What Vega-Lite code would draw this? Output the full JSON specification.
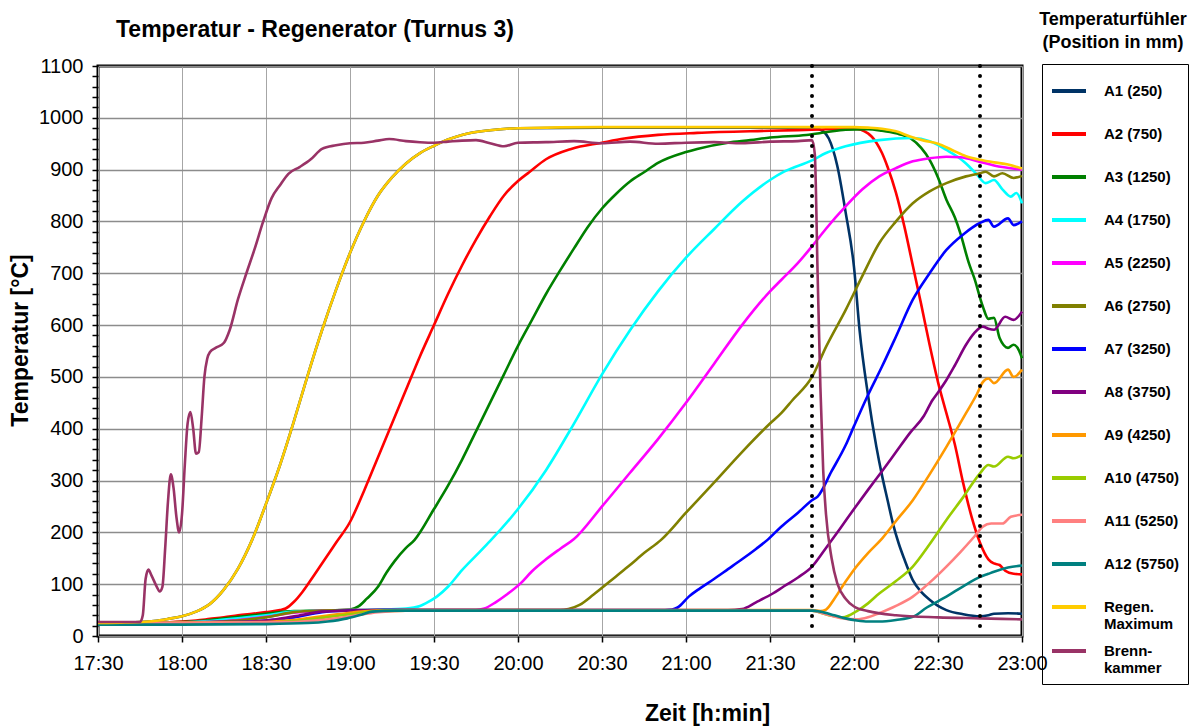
{
"$schema": "https://vega.github.io/schema/vega-lite/v6.json",
"width": 924, "height": 570,
"autosize": {"type": "none"},
"padding": {"left": 98, "top": 66, "right": 168, "bottom": 90},
"background": "white",
"config": {"view": {"stroke": "black", "strokeWidth": 3}, "font": "Liberation Sans"},
"layer": [
{
"data": {"values": [
{"t":"17:30","s":"A1 (250)","v":25},{"t":"17:40","s":"A1 (250)","v":26},{"t":"17:45","s":"A1 (250)","v":27},{"t":"17:50","s":"A1 (250)","v":29},{"t":"17:55","s":"A1 (250)","v":33},{"t":"18:00","s":"A1 (250)","v":38},{"t":"18:05","s":"A1 (250)","v":47},{"t":"18:10","s":"A1 (250)","v":62},{"t":"18:15","s":"A1 (250)","v":90},{"t":"18:20","s":"A1 (250)","v":130},{"t":"18:25","s":"A1 (250)","v":185},{"t":"18:30","s":"A1 (250)","v":255},{"t":"18:35","s":"A1 (250)","v":330},{"t":"18:40","s":"A1 (250)","v":415},{"t":"18:45","s":"A1 (250)","v":505},{"t":"18:50","s":"A1 (250)","v":590},{"t":"18:55","s":"A1 (250)","v":668},{"t":"19:00","s":"A1 (250)","v":739},{"t":"19:05","s":"A1 (250)","v":800},{"t":"19:10","s":"A1 (250)","v":850},{"t":"19:15","s":"A1 (250)","v":885},{"t":"19:20","s":"A1 (250)","v":912},{"t":"19:25","s":"A1 (250)","v":932},{"t":"19:30","s":"A1 (250)","v":946},{"t":"19:35","s":"A1 (250)","v":958},{"t":"19:40","s":"A1 (250)","v":967},{"t":"19:50","s":"A1 (250)","v":976},{"t":"20:00","s":"A1 (250)","v":980},{"t":"20:30","s":"A1 (250)","v":981},{"t":"21:00","s":"A1 (250)","v":981},{"t":"21:30","s":"A1 (250)","v":981},{"t":"21:45","s":"A1 (250)","v":981},{"t":"21:47","s":"A1 (250)","v":979},{"t":"21:49","s":"A1 (250)","v":974},{"t":"21:51","s":"A1 (250)","v":960},{"t":"21:54","s":"A1 (250)","v":908},{"t":"21:57","s":"A1 (250)","v":818},{"t":"22:00","s":"A1 (250)","v":712},{"t":"22:02","s":"A1 (250)","v":590},{"t":"22:05","s":"A1 (250)","v":465},{"t":"22:08","s":"A1 (250)","v":365},{"t":"22:10","s":"A1 (250)","v":310},{"t":"22:12","s":"A1 (250)","v":262},{"t":"22:14","s":"A1 (250)","v":215},{"t":"22:16","s":"A1 (250)","v":178},{"t":"22:18","s":"A1 (250)","v":148},{"t":"22:21","s":"A1 (250)","v":108},{"t":"22:24","s":"A1 (250)","v":85},{"t":"22:27","s":"A1 (250)","v":70},{"t":"22:30","s":"A1 (250)","v":58},{"t":"22:33","s":"A1 (250)","v":50},{"t":"22:39","s":"A1 (250)","v":42},{"t":"22:45","s":"A1 (250)","v":38},{"t":"22:48","s":"A1 (250)","v":40},{"t":"22:50","s":"A1 (250)","v":43},{"t":"22:55","s":"A1 (250)","v":44},{"t":"23:00","s":"A1 (250)","v":43},
{"t":"17:30","s":"A2 (750)","v":25},{"t":"17:50","s":"A2 (750)","v":26},{"t":"18:00","s":"A2 (750)","v":28},{"t":"18:05","s":"A2 (750)","v":30},{"t":"18:10","s":"A2 (750)","v":33},{"t":"18:15","s":"A2 (750)","v":36},{"t":"18:20","s":"A2 (750)","v":40},{"t":"18:25","s":"A2 (750)","v":43},{"t":"18:30","s":"A2 (750)","v":46},{"t":"18:35","s":"A2 (750)","v":50},{"t":"18:37","s":"A2 (750)","v":53},{"t":"18:40","s":"A2 (750)","v":66},{"t":"18:43","s":"A2 (750)","v":85},{"t":"18:46","s":"A2 (750)","v":108},{"t":"18:50","s":"A2 (750)","v":140},{"t":"18:55","s":"A2 (750)","v":180},{"t":"19:00","s":"A2 (750)","v":220},{"t":"19:05","s":"A2 (750)","v":280},{"t":"19:10","s":"A2 (750)","v":345},{"t":"19:15","s":"A2 (750)","v":410},{"t":"19:20","s":"A2 (750)","v":475},{"t":"19:25","s":"A2 (750)","v":540},{"t":"19:30","s":"A2 (750)","v":600},{"t":"19:35","s":"A2 (750)","v":660},{"t":"19:40","s":"A2 (750)","v":715},{"t":"19:45","s":"A2 (750)","v":765},{"t":"19:50","s":"A2 (750)","v":810},{"t":"19:55","s":"A2 (750)","v":850},{"t":"20:00","s":"A2 (750)","v":878},{"t":"20:04","s":"A2 (750)","v":895},{"t":"20:10","s":"A2 (750)","v":920},{"t":"20:19","s":"A2 (750)","v":940},{"t":"20:30","s":"A2 (750)","v":952},{"t":"20:38","s":"A2 (750)","v":960},{"t":"20:50","s":"A2 (750)","v":967},{"t":"21:04","s":"A2 (750)","v":971},{"t":"21:30","s":"A2 (750)","v":975},{"t":"21:45","s":"A2 (750)","v":977},{"t":"22:00","s":"A2 (750)","v":979},{"t":"22:05","s":"A2 (750)","v":970},{"t":"22:08","s":"A2 (750)","v":952},{"t":"22:10","s":"A2 (750)","v":932},{"t":"22:12","s":"A2 (750)","v":905},{"t":"22:15","s":"A2 (750)","v":855},{"t":"22:18","s":"A2 (750)","v":790},{"t":"22:21","s":"A2 (750)","v":715},{"t":"22:24","s":"A2 (750)","v":640},{"t":"22:27","s":"A2 (750)","v":562},{"t":"22:30","s":"A2 (750)","v":490},{"t":"22:33","s":"A2 (750)","v":430},{"t":"22:36","s":"A2 (750)","v":370},{"t":"22:39","s":"A2 (750)","v":295},{"t":"22:42","s":"A2 (750)","v":230},{"t":"22:45","s":"A2 (750)","v":180},{"t":"22:48","s":"A2 (750)","v":148},{"t":"22:50","s":"A2 (750)","v":140},{"t":"22:52","s":"A2 (750)","v":137},{"t":"22:54","s":"A2 (750)","v":126},{"t":"22:57","s":"A2 (750)","v":120},{"t":"23:00","s":"A2 (750)","v":119},
{"t":"17:30","s":"A3 (1250)","v":25},{"t":"17:50","s":"A3 (1250)","v":26},{"t":"18:00","s":"A3 (1250)","v":27},{"t":"18:10","s":"A3 (1250)","v":31},{"t":"18:20","s":"A3 (1250)","v":37},{"t":"18:30","s":"A3 (1250)","v":43},{"t":"18:40","s":"A3 (1250)","v":48},{"t":"18:50","s":"A3 (1250)","v":49},{"t":"19:00","s":"A3 (1250)","v":51},{"t":"19:03","s":"A3 (1250)","v":57},{"t":"19:06","s":"A3 (1250)","v":72},{"t":"19:10","s":"A3 (1250)","v":95},{"t":"19:13","s":"A3 (1250)","v":122},{"t":"19:16","s":"A3 (1250)","v":145},{"t":"19:20","s":"A3 (1250)","v":170},{"t":"19:23","s":"A3 (1250)","v":185},{"t":"19:30","s":"A3 (1250)","v":245},{"t":"19:35","s":"A3 (1250)","v":290},{"t":"19:40","s":"A3 (1250)","v":340},{"t":"19:45","s":"A3 (1250)","v":395},{"t":"19:50","s":"A3 (1250)","v":450},{"t":"19:55","s":"A3 (1250)","v":505},{"t":"20:00","s":"A3 (1250)","v":560},{"t":"20:05","s":"A3 (1250)","v":610},{"t":"20:10","s":"A3 (1250)","v":660},{"t":"20:15","s":"A3 (1250)","v":705},{"t":"20:20","s":"A3 (1250)","v":748},{"t":"20:25","s":"A3 (1250)","v":790},{"t":"20:30","s":"A3 (1250)","v":825},{"t":"20:35","s":"A3 (1250)","v":853},{"t":"20:40","s":"A3 (1250)","v":877},{"t":"20:45","s":"A3 (1250)","v":895},{"t":"20:50","s":"A3 (1250)","v":913},{"t":"21:00","s":"A3 (1250)","v":934},{"t":"21:04","s":"A3 (1250)","v":940},{"t":"21:15","s":"A3 (1250)","v":952},{"t":"21:23","s":"A3 (1250)","v":957},{"t":"21:30","s":"A3 (1250)","v":962},{"t":"21:43","s":"A3 (1250)","v":967},{"t":"21:50","s":"A3 (1250)","v":972},{"t":"21:57","s":"A3 (1250)","v":977},{"t":"22:05","s":"A3 (1250)","v":978},{"t":"22:10","s":"A3 (1250)","v":975},{"t":"22:15","s":"A3 (1250)","v":970},{"t":"22:20","s":"A3 (1250)","v":961},{"t":"22:24","s":"A3 (1250)","v":942},{"t":"22:27","s":"A3 (1250)","v":919},{"t":"22:30","s":"A3 (1250)","v":885},{"t":"22:33","s":"A3 (1250)","v":842},{"t":"22:36","s":"A3 (1250)","v":808},{"t":"22:38","s":"A3 (1250)","v":777},{"t":"22:41","s":"A3 (1250)","v":720},{"t":"22:43","s":"A3 (1250)","v":690},{"t":"22:46","s":"A3 (1250)","v":636},{"t":"22:48","s":"A3 (1250)","v":612},{"t":"22:50","s":"A3 (1250)","v":614},{"t":"22:52","s":"A3 (1250)","v":575},{"t":"22:55","s":"A3 (1250)","v":556},{"t":"22:57","s":"A3 (1250)","v":562},{"t":"22:59","s":"A3 (1250)","v":550},{"t":"23:00","s":"A3 (1250)","v":536},
{"t":"17:30","s":"A4 (1750)","v":25},{"t":"18:00","s":"A4 (1750)","v":26},{"t":"18:10","s":"A4 (1750)","v":29},{"t":"18:20","s":"A4 (1750)","v":34},{"t":"18:30","s":"A4 (1750)","v":40},{"t":"18:40","s":"A4 (1750)","v":47},{"t":"18:50","s":"A4 (1750)","v":49},{"t":"19:00","s":"A4 (1750)","v":50},{"t":"19:10","s":"A4 (1750)","v":51},{"t":"19:20","s":"A4 (1750)","v":53},{"t":"19:25","s":"A4 (1750)","v":58},{"t":"19:27","s":"A4 (1750)","v":63},{"t":"19:31","s":"A4 (1750)","v":76},{"t":"19:35","s":"A4 (1750)","v":95},{"t":"19:40","s":"A4 (1750)","v":127},{"t":"19:45","s":"A4 (1750)","v":155},{"t":"19:50","s":"A4 (1750)","v":183},{"t":"20:00","s":"A4 (1750)","v":245},{"t":"20:10","s":"A4 (1750)","v":320},{"t":"20:20","s":"A4 (1750)","v":410},{"t":"20:30","s":"A4 (1750)","v":505},{"t":"20:40","s":"A4 (1750)","v":590},{"t":"20:50","s":"A4 (1750)","v":665},{"t":"21:00","s":"A4 (1750)","v":730},{"t":"21:10","s":"A4 (1750)","v":785},{"t":"21:20","s":"A4 (1750)","v":838},{"t":"21:30","s":"A4 (1750)","v":880},{"t":"21:35","s":"A4 (1750)","v":896},{"t":"21:45","s":"A4 (1750)","v":918},{"t":"21:50","s":"A4 (1750)","v":932},{"t":"21:57","s":"A4 (1750)","v":945},{"t":"22:09","s":"A4 (1750)","v":957},{"t":"22:21","s":"A4 (1750)","v":961},{"t":"22:27","s":"A4 (1750)","v":955},{"t":"22:33","s":"A4 (1750)","v":938},{"t":"22:37","s":"A4 (1750)","v":925},{"t":"22:40","s":"A4 (1750)","v":912},{"t":"22:44","s":"A4 (1750)","v":890},{"t":"22:47","s":"A4 (1750)","v":874},{"t":"22:50","s":"A4 (1750)","v":880},{"t":"22:53","s":"A4 (1750)","v":862},{"t":"22:56","s":"A4 (1750)","v":848},{"t":"22:58","s":"A4 (1750)","v":855},{"t":"23:00","s":"A4 (1750)","v":835},
{"t":"17:30","s":"A5 (2250)","v":25},{"t":"18:10","s":"A5 (2250)","v":27},{"t":"18:20","s":"A5 (2250)","v":31},{"t":"18:30","s":"A5 (2250)","v":37},{"t":"18:40","s":"A5 (2250)","v":45},{"t":"18:50","s":"A5 (2250)","v":49},{"t":"19:00","s":"A5 (2250)","v":50},{"t":"19:45","s":"A5 (2250)","v":50},{"t":"19:48","s":"A5 (2250)","v":53},{"t":"19:52","s":"A5 (2250)","v":65},{"t":"19:56","s":"A5 (2250)","v":80},{"t":"20:01","s":"A5 (2250)","v":102},{"t":"20:05","s":"A5 (2250)","v":125},{"t":"20:10","s":"A5 (2250)","v":148},{"t":"20:15","s":"A5 (2250)","v":168},{"t":"20:20","s":"A5 (2250)","v":187},{"t":"20:30","s":"A5 (2250)","v":250},{"t":"20:40","s":"A5 (2250)","v":315},{"t":"20:50","s":"A5 (2250)","v":380},{"t":"21:00","s":"A5 (2250)","v":450},{"t":"21:10","s":"A5 (2250)","v":525},{"t":"21:20","s":"A5 (2250)","v":600},{"t":"21:30","s":"A5 (2250)","v":665},{"t":"21:34","s":"A5 (2250)","v":687},{"t":"21:40","s":"A5 (2250)","v":720},{"t":"21:45","s":"A5 (2250)","v":752},{"t":"21:50","s":"A5 (2250)","v":786},{"t":"21:57","s":"A5 (2250)","v":829},{"t":"22:03","s":"A5 (2250)","v":862},{"t":"22:09","s":"A5 (2250)","v":887},{"t":"22:15","s":"A5 (2250)","v":903},{"t":"22:21","s":"A5 (2250)","v":916},{"t":"22:27","s":"A5 (2250)","v":922},{"t":"22:33","s":"A5 (2250)","v":925},{"t":"22:38","s":"A5 (2250)","v":924},{"t":"22:45","s":"A5 (2250)","v":915},{"t":"22:50","s":"A5 (2250)","v":908},{"t":"23:00","s":"A5 (2250)","v":900},
{"t":"17:30","s":"A6 (2750)","v":25},{"t":"18:10","s":"A6 (2750)","v":27},{"t":"18:20","s":"A6 (2750)","v":30},{"t":"18:30","s":"A6 (2750)","v":36},{"t":"18:40","s":"A6 (2750)","v":46},{"t":"18:50","s":"A6 (2750)","v":49},{"t":"19:00","s":"A6 (2750)","v":50},{"t":"20:15","s":"A6 (2750)","v":50},{"t":"20:18","s":"A6 (2750)","v":52},{"t":"20:22","s":"A6 (2750)","v":60},{"t":"20:27","s":"A6 (2750)","v":80},{"t":"20:35","s":"A6 (2750)","v":115},{"t":"20:40","s":"A6 (2750)","v":137},{"t":"20:45","s":"A6 (2750)","v":160},{"t":"20:51","s":"A6 (2750)","v":185},{"t":"21:00","s":"A6 (2750)","v":238},{"t":"21:10","s":"A6 (2750)","v":296},{"t":"21:20","s":"A6 (2750)","v":355},{"t":"21:30","s":"A6 (2750)","v":410},{"t":"21:34","s":"A6 (2750)","v":430},{"t":"21:38","s":"A6 (2750)","v":455},{"t":"21:45","s":"A6 (2750)","v":500},{"t":"21:50","s":"A6 (2750)","v":558},{"t":"21:57","s":"A6 (2750)","v":629},{"t":"22:03","s":"A6 (2750)","v":695},{"t":"22:09","s":"A6 (2750)","v":758},{"t":"22:15","s":"A6 (2750)","v":800},{"t":"22:21","s":"A6 (2750)","v":835},{"t":"22:27","s":"A6 (2750)","v":858},{"t":"22:33","s":"A6 (2750)","v":874},{"t":"22:40","s":"A6 (2750)","v":887},{"t":"22:45","s":"A6 (2750)","v":893},{"t":"22:47","s":"A6 (2750)","v":896},{"t":"22:50","s":"A6 (2750)","v":887},{"t":"22:53","s":"A6 (2750)","v":893},{"t":"22:57","s":"A6 (2750)","v":884},{"t":"23:00","s":"A6 (2750)","v":888},
{"t":"17:30","s":"A7 (3250)","v":25},{"t":"18:20","s":"A7 (3250)","v":27},{"t":"18:30","s":"A7 (3250)","v":30},{"t":"18:40","s":"A7 (3250)","v":36},{"t":"18:50","s":"A7 (3250)","v":46},{"t":"19:00","s":"A7 (3250)","v":49},{"t":"19:10","s":"A7 (3250)","v":50},{"t":"20:50","s":"A7 (3250)","v":50},{"t":"20:55","s":"A7 (3250)","v":51},{"t":"20:57","s":"A7 (3250)","v":55},{"t":"21:01","s":"A7 (3250)","v":76},{"t":"21:05","s":"A7 (3250)","v":92},{"t":"21:10","s":"A7 (3250)","v":110},{"t":"21:15","s":"A7 (3250)","v":129},{"t":"21:20","s":"A7 (3250)","v":148},{"t":"21:25","s":"A7 (3250)","v":168},{"t":"21:29","s":"A7 (3250)","v":185},{"t":"21:34","s":"A7 (3250)","v":211},{"t":"21:40","s":"A7 (3250)","v":238},{"t":"21:45","s":"A7 (3250)","v":262},{"t":"21:47","s":"A7 (3250)","v":269},{"t":"21:52","s":"A7 (3250)","v":318},{"t":"21:57","s":"A7 (3250)","v":368},{"t":"22:00","s":"A7 (3250)","v":405},{"t":"22:05","s":"A7 (3250)","v":465},{"t":"22:10","s":"A7 (3250)","v":520},{"t":"22:15","s":"A7 (3250)","v":578},{"t":"22:21","s":"A7 (3250)","v":649},{"t":"22:27","s":"A7 (3250)","v":700},{"t":"22:33","s":"A7 (3250)","v":745},{"t":"22:39","s":"A7 (3250)","v":775},{"t":"22:45","s":"A7 (3250)","v":797},{"t":"22:48","s":"A7 (3250)","v":803},{"t":"22:50","s":"A7 (3250)","v":790},{"t":"22:55","s":"A7 (3250)","v":806},{"t":"22:57","s":"A7 (3250)","v":793},{"t":"23:00","s":"A7 (3250)","v":800},
{"t":"17:30","s":"A8 (3750)","v":25},{"t":"18:20","s":"A8 (3750)","v":27},{"t":"18:30","s":"A8 (3750)","v":30},{"t":"18:40","s":"A8 (3750)","v":38},{"t":"18:50","s":"A8 (3750)","v":47},{"t":"19:00","s":"A8 (3750)","v":49},{"t":"19:10","s":"A8 (3750)","v":50},{"t":"21:15","s":"A8 (3750)","v":50},{"t":"21:20","s":"A8 (3750)","v":52},{"t":"21:25","s":"A8 (3750)","v":65},{"t":"21:31","s":"A8 (3750)","v":82},{"t":"21:35","s":"A8 (3750)","v":96},{"t":"21:40","s":"A8 (3750)","v":113},{"t":"21:45","s":"A8 (3750)","v":134},{"t":"21:50","s":"A8 (3750)","v":170},{"t":"21:55","s":"A8 (3750)","v":207},{"t":"22:00","s":"A8 (3750)","v":245},{"t":"22:05","s":"A8 (3750)","v":282},{"t":"22:10","s":"A8 (3750)","v":318},{"t":"22:15","s":"A8 (3750)","v":355},{"t":"22:20","s":"A8 (3750)","v":392},{"t":"22:25","s":"A8 (3750)","v":425},{"t":"22:28","s":"A8 (3750)","v":455},{"t":"22:30","s":"A8 (3750)","v":470},{"t":"22:33","s":"A8 (3750)","v":494},{"t":"22:36","s":"A8 (3750)","v":522},{"t":"22:40","s":"A8 (3750)","v":562},{"t":"22:43","s":"A8 (3750)","v":585},{"t":"22:46","s":"A8 (3750)","v":597},{"t":"22:48","s":"A8 (3750)","v":593},{"t":"22:50","s":"A8 (3750)","v":591},{"t":"22:54","s":"A8 (3750)","v":616},{"t":"22:57","s":"A8 (3750)","v":610},{"t":"23:00","s":"A8 (3750)","v":626},
{"t":"17:30","s":"A9 (4250)","v":25},{"t":"18:30","s":"A9 (4250)","v":27},{"t":"18:40","s":"A9 (4250)","v":31},{"t":"18:50","s":"A9 (4250)","v":38},{"t":"19:00","s":"A9 (4250)","v":45},{"t":"19:10","s":"A9 (4250)","v":49},{"t":"19:20","s":"A9 (4250)","v":50},{"t":"21:45","s":"A9 (4250)","v":50},{"t":"21:48","s":"A9 (4250)","v":48},{"t":"21:50","s":"A9 (4250)","v":51},{"t":"21:53","s":"A9 (4250)","v":72},{"t":"21:57","s":"A9 (4250)","v":105},{"t":"22:00","s":"A9 (4250)","v":128},{"t":"22:05","s":"A9 (4250)","v":160},{"t":"22:10","s":"A9 (4250)","v":188},{"t":"22:15","s":"A9 (4250)","v":222},{"t":"22:21","s":"A9 (4250)","v":262},{"t":"22:27","s":"A9 (4250)","v":312},{"t":"22:33","s":"A9 (4250)","v":365},{"t":"22:40","s":"A9 (4250)","v":430},{"t":"22:44","s":"A9 (4250)","v":468},{"t":"22:46","s":"A9 (4250)","v":490},{"t":"22:48","s":"A9 (4250)","v":497},{"t":"22:50","s":"A9 (4250)","v":488},{"t":"22:55","s":"A9 (4250)","v":514},{"t":"22:57","s":"A9 (4250)","v":500},{"t":"23:00","s":"A9 (4250)","v":514},
{"t":"17:30","s":"A10 (4750)","v":25},{"t":"18:30","s":"A10 (4750)","v":26},{"t":"18:40","s":"A10 (4750)","v":29},{"t":"18:50","s":"A10 (4750)","v":35},{"t":"19:00","s":"A10 (4750)","v":42},{"t":"19:10","s":"A10 (4750)","v":48},{"t":"19:20","s":"A10 (4750)","v":49},{"t":"21:45","s":"A10 (4750)","v":49},{"t":"21:48","s":"A10 (4750)","v":45},{"t":"21:52","s":"A10 (4750)","v":39},{"t":"21:56","s":"A10 (4750)","v":36},{"t":"22:01","s":"A10 (4750)","v":48},{"t":"22:05","s":"A10 (4750)","v":63},{"t":"22:09","s":"A10 (4750)","v":82},{"t":"22:15","s":"A10 (4750)","v":106},{"t":"22:21","s":"A10 (4750)","v":134},{"t":"22:27","s":"A10 (4750)","v":177},{"t":"22:33","s":"A10 (4750)","v":224},{"t":"22:39","s":"A10 (4750)","v":268},{"t":"22:45","s":"A10 (4750)","v":314},{"t":"22:48","s":"A10 (4750)","v":330},{"t":"22:50","s":"A10 (4750)","v":327},{"t":"22:55","s":"A10 (4750)","v":346},{"t":"22:57","s":"A10 (4750)","v":343},{"t":"23:00","s":"A10 (4750)","v":349},
{"t":"17:30","s":"A11 (5250)","v":25},{"t":"18:40","s":"A11 (5250)","v":27},{"t":"18:50","s":"A11 (5250)","v":31},{"t":"19:00","s":"A11 (5250)","v":38},{"t":"19:10","s":"A11 (5250)","v":46},{"t":"19:20","s":"A11 (5250)","v":49},{"t":"21:45","s":"A11 (5250)","v":49},{"t":"21:50","s":"A11 (5250)","v":42},{"t":"21:55","s":"A11 (5250)","v":35},{"t":"22:01","s":"A11 (5250)","v":32},{"t":"22:05","s":"A11 (5250)","v":36},{"t":"22:09","s":"A11 (5250)","v":44},{"t":"22:15","s":"A11 (5250)","v":58},{"t":"22:21","s":"A11 (5250)","v":76},{"t":"22:27","s":"A11 (5250)","v":103},{"t":"22:33","s":"A11 (5250)","v":134},{"t":"22:38","s":"A11 (5250)","v":162},{"t":"22:43","s":"A11 (5250)","v":192},{"t":"22:46","s":"A11 (5250)","v":211},{"t":"22:49","s":"A11 (5250)","v":217},{"t":"22:53","s":"A11 (5250)","v":217},{"t":"22:56","s":"A11 (5250)","v":230},{"t":"23:00","s":"A11 (5250)","v":234},
{"t":"17:30","s":"A12 (5750)","v":22},{"t":"18:00","s":"A12 (5750)","v":22},{"t":"18:30","s":"A12 (5750)","v":23},{"t":"18:45","s":"A12 (5750)","v":25},{"t":"18:52","s":"A12 (5750)","v":28},{"t":"18:59","s":"A12 (5750)","v":34},{"t":"19:04","s":"A12 (5750)","v":41},{"t":"19:08","s":"A12 (5750)","v":47},{"t":"19:16","s":"A12 (5750)","v":49},{"t":"21:45","s":"A12 (5750)","v":49},{"t":"21:48","s":"A12 (5750)","v":47},{"t":"21:53","s":"A12 (5750)","v":40},{"t":"21:57","s":"A12 (5750)","v":34},{"t":"22:01","s":"A12 (5750)","v":30},{"t":"22:05","s":"A12 (5750)","v":28},{"t":"22:09","s":"A12 (5750)","v":28},{"t":"22:15","s":"A12 (5750)","v":31},{"t":"22:21","s":"A12 (5750)","v":37},{"t":"22:26","s":"A12 (5750)","v":55},{"t":"22:30","s":"A12 (5750)","v":67},{"t":"22:33","s":"A12 (5750)","v":76},{"t":"22:39","s":"A12 (5750)","v":96},{"t":"22:45","s":"A12 (5750)","v":114},{"t":"22:48","s":"A12 (5750)","v":120},{"t":"22:50","s":"A12 (5750)","v":124},{"t":"22:55","s":"A12 (5750)","v":132},{"t":"23:00","s":"A12 (5750)","v":136},
{"t":"17:30","s":"Regen. Maximum","v":25},{"t":"17:40","s":"Regen. Maximum","v":26},{"t":"17:45","s":"Regen. Maximum","v":27},{"t":"17:50","s":"Regen. Maximum","v":29},{"t":"17:55","s":"Regen. Maximum","v":33},{"t":"18:00","s":"Regen. Maximum","v":38},{"t":"18:05","s":"Regen. Maximum","v":47},{"t":"18:10","s":"Regen. Maximum","v":62},{"t":"18:15","s":"Regen. Maximum","v":90},{"t":"18:20","s":"Regen. Maximum","v":130},{"t":"18:25","s":"Regen. Maximum","v":185},{"t":"18:30","s":"Regen. Maximum","v":255},{"t":"18:35","s":"Regen. Maximum","v":330},{"t":"18:40","s":"Regen. Maximum","v":415},{"t":"18:45","s":"Regen. Maximum","v":505},{"t":"18:50","s":"Regen. Maximum","v":590},{"t":"18:55","s":"Regen. Maximum","v":668},{"t":"19:00","s":"Regen. Maximum","v":739},{"t":"19:05","s":"Regen. Maximum","v":800},{"t":"19:10","s":"Regen. Maximum","v":850},{"t":"19:15","s":"Regen. Maximum","v":885},{"t":"19:20","s":"Regen. Maximum","v":912},{"t":"19:25","s":"Regen. Maximum","v":932},{"t":"19:30","s":"Regen. Maximum","v":946},{"t":"19:35","s":"Regen. Maximum","v":958},{"t":"19:40","s":"Regen. Maximum","v":967},{"t":"19:50","s":"Regen. Maximum","v":976},{"t":"20:00","s":"Regen. Maximum","v":980},{"t":"20:30","s":"Regen. Maximum","v":982},{"t":"21:00","s":"Regen. Maximum","v":982},{"t":"21:30","s":"Regen. Maximum","v":982},{"t":"22:00","s":"Regen. Maximum","v":982},{"t":"22:05","s":"Regen. Maximum","v":981},{"t":"22:10","s":"Regen. Maximum","v":979},{"t":"22:15","s":"Regen. Maximum","v":974},{"t":"22:20","s":"Regen. Maximum","v":964},{"t":"22:25","s":"Regen. Maximum","v":956},{"t":"22:30","s":"Regen. Maximum","v":950},{"t":"22:35","s":"Regen. Maximum","v":938},{"t":"22:40","s":"Regen. Maximum","v":926},{"t":"22:45","s":"Regen. Maximum","v":919},{"t":"22:50","s":"Regen. Maximum","v":914},{"t":"22:55","s":"Regen. Maximum","v":910},{"t":"23:00","s":"Regen. Maximum","v":902},
{"t":"17:30","s":"Brenn-kammer","v":27},{"t":"17:45","s":"Brenn-kammer","v":27},{"t":"17:46","s":"Brenn-kammer","v":40},{"t":"17:47","s":"Brenn-kammer","v":110},{"t":"17:48","s":"Brenn-kammer","v":128},{"t":"17:49","s":"Brenn-kammer","v":118},{"t":"17:51","s":"Brenn-kammer","v":95},{"t":"17:52","s":"Brenn-kammer","v":86},{"t":"17:53","s":"Brenn-kammer","v":95},{"t":"17:54","s":"Brenn-kammer","v":170},{"t":"17:55","s":"Brenn-kammer","v":260},{"t":"17:56","s":"Brenn-kammer","v":312},{"t":"17:57","s":"Brenn-kammer","v":285},{"t":"17:58","s":"Brenn-kammer","v":230},{"t":"17:59","s":"Brenn-kammer","v":200},{"t":"18:00","s":"Brenn-kammer","v":235},{"t":"18:01","s":"Brenn-kammer","v":330},{"t":"18:02","s":"Brenn-kammer","v":410},{"t":"18:03","s":"Brenn-kammer","v":432},{"t":"18:04","s":"Brenn-kammer","v":400},{"t":"18:05","s":"Brenn-kammer","v":352},{"t":"18:06","s":"Brenn-kammer","v":355},{"t":"18:07","s":"Brenn-kammer","v":420},{"t":"18:08","s":"Brenn-kammer","v":500},{"t":"18:09","s":"Brenn-kammer","v":535},{"t":"18:10","s":"Brenn-kammer","v":548},{"t":"18:12","s":"Brenn-kammer","v":556},{"t":"18:15","s":"Brenn-kammer","v":566},{"t":"18:17","s":"Brenn-kammer","v":590},{"t":"18:20","s":"Brenn-kammer","v":650},{"t":"18:23","s":"Brenn-kammer","v":700},{"t":"18:26","s":"Brenn-kammer","v":748},{"t":"18:29","s":"Brenn-kammer","v":800},{"t":"18:32","s":"Brenn-kammer","v":845},{"t":"18:35","s":"Brenn-kammer","v":870},{"t":"18:38","s":"Brenn-kammer","v":892},{"t":"18:42","s":"Brenn-kammer","v":905},{"t":"18:46","s":"Brenn-kammer","v":920},{"t":"18:50","s":"Brenn-kammer","v":940},{"t":"18:55","s":"Brenn-kammer","v":947},{"t":"19:00","s":"Brenn-kammer","v":951},{"t":"19:05","s":"Brenn-kammer","v":952},{"t":"19:10","s":"Brenn-kammer","v":956},{"t":"19:14","s":"Brenn-kammer","v":959},{"t":"19:20","s":"Brenn-kammer","v":955},{"t":"19:25","s":"Brenn-kammer","v":953},{"t":"19:30","s":"Brenn-kammer","v":952},{"t":"19:35","s":"Brenn-kammer","v":954},{"t":"19:40","s":"Brenn-kammer","v":956},{"t":"19:45","s":"Brenn-kammer","v":957},{"t":"19:50","s":"Brenn-kammer","v":951},{"t":"19:55","s":"Brenn-kammer","v":945},{"t":"20:00","s":"Brenn-kammer","v":952},{"t":"20:10","s":"Brenn-kammer","v":953},{"t":"20:20","s":"Brenn-kammer","v":955},{"t":"20:30","s":"Brenn-kammer","v":951},{"t":"20:40","s":"Brenn-kammer","v":954},{"t":"20:50","s":"Brenn-kammer","v":950},{"t":"21:00","s":"Brenn-kammer","v":952},{"t":"21:10","s":"Brenn-kammer","v":953},{"t":"21:20","s":"Brenn-kammer","v":951},{"t":"21:30","s":"Brenn-kammer","v":954},{"t":"21:40","s":"Brenn-kammer","v":955},{"t":"21:45","s":"Brenn-kammer","v":957},{"t":"21:46","s":"Brenn-kammer","v":930},{"t":"21:47","s":"Brenn-kammer","v":700},{"t":"21:48","s":"Brenn-kammer","v":480},{"t":"21:49","s":"Brenn-kammer","v":320},{"t":"21:50","s":"Brenn-kammer","v":235},{"t":"21:52","s":"Brenn-kammer","v":150},{"t":"21:54","s":"Brenn-kammer","v":102},{"t":"21:57","s":"Brenn-kammer","v":72},{"t":"22:00","s":"Brenn-kammer","v":57},{"t":"22:05","s":"Brenn-kammer","v":48},{"t":"22:15","s":"Brenn-kammer","v":40},{"t":"22:30","s":"Brenn-kammer","v":36},{"t":"22:45","s":"Brenn-kammer","v":34},{"t":"23:00","s":"Brenn-kammer","v":32}
], "format": {"parse": {"t": "date:'%H:%M'"}}},
"mark": {"type": "line", "strokeWidth": 2.6, "interpolate": "monotone"},
"encoding": {
"x": {"field": "t", "type": "temporal",
 "scale": {"domain": [{"year": 1900, "month": 1, "date": 1, "hours": 17, "minutes": 30}, {"year": 1900, "month": 1, "date": 1, "hours": 23, "minutes": 0}], "nice": false},
 "axis": {"tickCount": 11, "format": "%H:%M", "labelFontSize": 20, "labelFont": "Liberation Sans", "labelColor": "black", "labelPadding": 11, "labelFlush": false, "labelOverlap": false, "tickSize": 6, "tickColor": "black", "tickWidth": 1.5, "domain": false, "grid": true, "gridColor": "#a6a6a6", "gridWidth": 1, "title": "Zeit [h:min]", "titleFont": "Liberation Sans", "titleFontSize": 23, "titleFontWeight": "bold", "titleColor": "black", "titleX": 609, "titleY": 77, "titleBaseline": "middle", "titleAlign": "center"}},
"y": {"field": "v", "type": "quantitative",
 "scale": {"domain": [0, 1100], "nice": false},
 "axis": {"values": [0,20,40,60,80,100,120,140,160,180,200,220,240,260,280,300,320,340,360,380,400,420,440,460,480,500,520,540,560,580,600,620,640,660,680,700,720,740,760,780,800,820,840,860,880,900,920,940,960,980,1000,1020,1040,1060,1080,1100], "tickCount": 100, "format": "d", "labelExpr": "datum.value % 100 == 0 ? datum.label : ''", "labelOverlap": false, "labelFontSize": 20, "labelFont": "Liberation Sans", "labelColor": "black", "labelPadding": 9, "tickSize": 6, "tickColor": "black", "tickWidth": 1.5, "domain": false, "grid": true, "gridColor": "#8c8c8c", "gridWidth": 1.5, "gridOpacity": {"condition": {"test": "datum.value % 100 != 0", "value": 0}, "value": 1}, "title": "Temperatur [°C]", "titleFont": "Liberation Sans", "titleFontSize": 23, "titleFontWeight": "bold", "titleColor": "black", "titleX": -78, "titleY": 274, "titleAngle": -90, "titleBaseline": "middle", "titleAlign": "center"}},
"color": {"field": "s", "type": "nominal",
 "scale": {"domain": ["A1 (250)", "A2 (750)", "A3 (1250)", "A4 (1750)", "A5 (2250)", "A6 (2750)", "A7 (3250)", "A8 (3750)", "A9 (4250)", "A10 (4750)", "A11 (5250)", "A12 (5750)", "Regen. Maximum", "Brenn-kammer"],
  "range": ["#003366", "#FF0000", "#008000", "#00FFFF", "#FF00FF", "#808000", "#0000FF", "#800080", "#FF9900", "#99CC00", "#FF8080", "#008080", "#FFCC00", "#993366"]},
 "legend": {"orient": "none", "legendX": 944, "legendY": -2, "title": null,
  "labelExpr": "datum.label == 'Regen. Maximum' ? ['Regen.', 'Maximum'] : datum.label == 'Brenn-kammer' ? ['Brenn-', 'kammer'] : datum.label",
  "labelFont": "Liberation Sans", "labelFontSize": 15, "labelFontWeight": "bold", "labelColor": "black", "labelOffset": 16, "labelLimit": 200,
  "symbolType": "M-1,0L1,0M0,-0.91L0,-0.91M0,0.91L0,0.91", "symbolSize": 1156, "symbolStrokeWidth": 4,
  "rowPadding": -8, "padding": 8, "strokeColor": "black"}}
}
},
{
"data": {"values": [{"t": "21:45"}, {"t": "22:45"}], "format": {"parse": {"t": "date:'%H:%M'"}}},
"mark": {"type": "rule", "color": "black", "strokeWidth": 4, "strokeDash": [0, 10], "strokeCap": "round"},
"encoding": {
"x": {"field": "t", "type": "temporal",
 "scale": {"domain": [{"year": 1900, "month": 1, "date": 1, "hours": 17, "minutes": 30}, {"year": 1900, "month": 1, "date": 1, "hours": 23, "minutes": 0}], "nice": false}}
}
},
{
"data": {"values": [{"label": "Temperatur - Regenerator (Turnus 3)"}]},
"mark": {"type": "text", "font": "Liberation Sans", "fontSize": 23, "fontWeight": "bold", "color": "black", "align": "left", "baseline": "middle"},
"encoding": {
"x": {"datum": {"year": 1900, "month": 1, "date": 1, "hours": 17, "minutes": 36, "seconds": 26}, "type": "temporal",
 "scale": {"domain": [{"year": 1900, "month": 1, "date": 1, "hours": 17, "minutes": 30}, {"year": 1900, "month": 1, "date": 1, "hours": 23, "minutes": 0}], "nice": false}},
"y": {"datum": 1170, "type": "quantitative", "scale": {"domain": [0, 1100], "nice": false}},
"text": {"field": "label"}
}
},
{
"data": {"values": [{"label": "Temperaturfühler\n(Position in mm)"}]},
"mark": {"type": "text", "font": "Liberation Sans", "fontSize": 18, "fontWeight": "bold", "color": "black", "align": "center", "baseline": "middle", "lineBreak": "\n", "lineHeight": 23},
"encoding": {
"x": {"datum": {"year": 1900, "month": 1, "date": 1, "hours": 23, "minutes": 32, "seconds": 30}, "type": "temporal",
 "scale": {"domain": [{"year": 1900, "month": 1, "date": 1, "hours": 17, "minutes": 30}, {"year": 1900, "month": 1, "date": 1, "hours": 23, "minutes": 0}], "nice": false}},
"y": {"datum": 1189, "type": "quantitative", "scale": {"domain": [0, 1100], "nice": false}},
"text": {"field": "label"}
}
}
]
}
